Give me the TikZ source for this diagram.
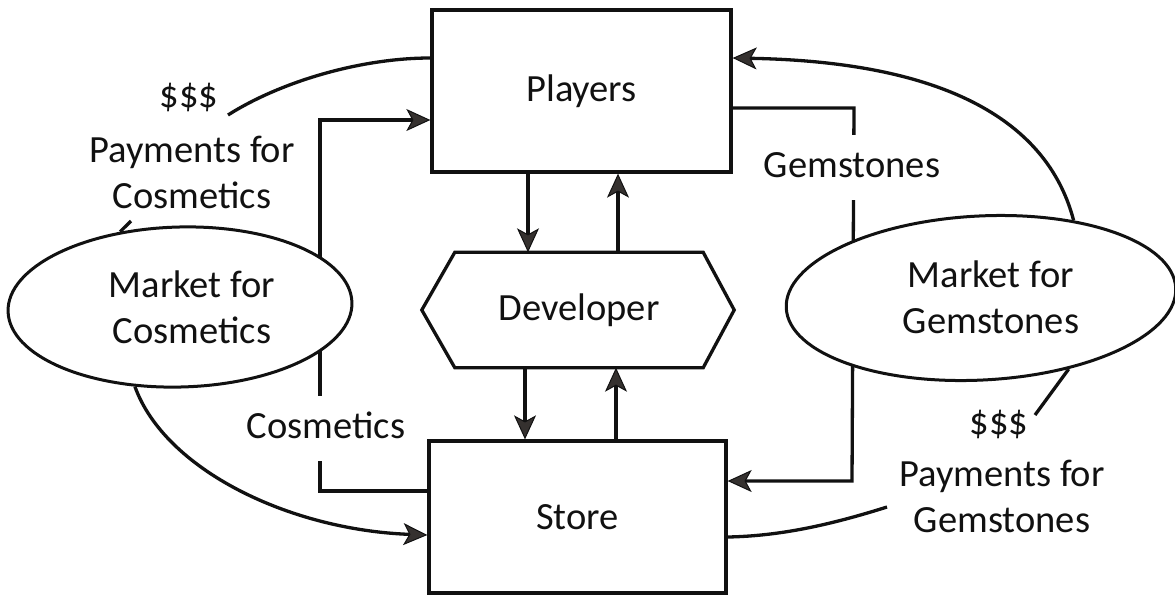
\documentclass[tikz,border=0pt]{standalone}
\usepackage{fontspec}
\setmainfont{Carlito}
\usetikzlibrary{shapes.geometric,arrows.meta}
\definecolor{ink}{HTML}{111111}
\definecolor{tipgray}{HTML}{35312F}
\pgfdeclarelayer{bg}
\pgfsetlayers{bg,main}
\begin{document}
\begin{tikzpicture}[x=1pt,y=-1pt,
  line/.style={line width=3.3pt, draw=ink},
  arr/.style={line, -{Stealth[length=24pt,width=22pt,inset=6pt,line width=1pt,fill=tipgray]}},
  box/.style={rectangle, draw=ink, line width=3.3pt},
  market/.style={ellipse, draw=ink, line width=3pt, fill=white, inner sep=0pt},
  txt/.style={font=\fontsize{38.5pt}{46pt}\selectfont, text=ink, align=center, inner sep=0pt},
  gaplabel/.style={txt, fill=white, text height=30pt, text depth=11pt, inner ysep=12pt, inner xsep=3pt, anchor=base},
]
\useasboundingbox (0,0) rectangle (1175,595);

% agents
\node[box, txt, minimum width=299pt, minimum height=162pt] (players) at (581.5,91) {Players};
\node[box, txt, minimum width=297pt, minimum height=152pt] (store) at (577.5,517) {Store};
\node[txt, minimum width=248pt, minimum height=115pt] (dev) at (579,310) {Developer};
\draw[line, line join=miter] (dev.north west) -- (dev.north east) -- ([xshift=31pt]dev.east)
  -- (dev.south east) -- (dev.south west) -- ([xshift=-33pt]dev.west) -- cycle;

% markets
\node[market, minimum width=344pt, minimum height=160pt, rotate=1.5] (mktc) at (180,307) {};
\node[txt] (mktctext) at (192,307) {Market for\\Cosmetics};
\node[market, minimum width=390pt, minimum height=164pt, rotate=3] (mktg) at (981,298) {};
\node[txt] (mktgtext) at (991,297) {Market for\\Gemstones};

% flow labels
\node[txt, anchor=base] (dolc) at (189,107) {\$\$\$};
\node[txt] (paycos) at (192,172) {Payments for\\Cosmetics};
\node[txt, anchor=base] (dolg) at (999,434) {\$\$\$};
\node[txt] (paygem) at (1002,496) {Payments for\\Gemstones};
\node[gaplabel] (gemlbl) at (852,177) {Gemstones};
\node[gaplabel] (coslbl) at (326,438) {Cosmetics};

% helper coordinates
\coordinate (xa) at (528,0);
\coordinate (xb) at (618,0);
\coordinate (xc) at (525,0);
\coordinate (xd) at (616,0);
\coordinate (cosA) at (320,491);
\coordinate (cosB) at (320,120);
\coordinate (gemA) at (854,108);
\coordinate (gemB) at (852,481);
\coordinate (pc1) at (228,115);
\coordinate (pc2) at (131,221);
\coordinate (pg1) at (1035,415);
\coordinate (pg2) at (887,507);

\begin{pgfonlayer}{bg}
  % developer links
  \draw[arr] (players.south -| xa) -- (dev.north -| xa);
  \draw[arr] (dev.north -| xb) -- (players.south -| xb);
  \draw[arr] (dev.south -| xc) -- (store.north -| xc);
  \draw[arr] (store.north -| xd) -- (dev.south -| xd);

  % goods flows
  \draw[arr, line join=miter] (store.west |- cosA) -- (cosA) -- (cosB) -- (players.west |- cosB);
  \draw[arr, line join=miter] (players.east |- gemA) -- (gemA) -- (gemB) -- (store.east |- gemB);

  % money flows
  \draw[line] ([yshift=33pt]players.west) .. controls (360,58) and (280,82) .. (pc1);
  \draw[line] (pc2) -- (mktc.127);
  \draw[arr] (mktc.239) .. controls (165,470) and (290,530) .. ([yshift=-18pt]store.west);
  \draw[arr] (mktg.37) .. controls (1050,130) and (960,62) .. ([yshift=33pt]players.east);
  \draw[line] (pg1) -- (mktg.318);
  \draw[line] (pg2) .. controls (830,525) and (780,536) .. ([yshift=-20pt]store.east);
\end{pgfonlayer}
\end{tikzpicture}
\end{document}
